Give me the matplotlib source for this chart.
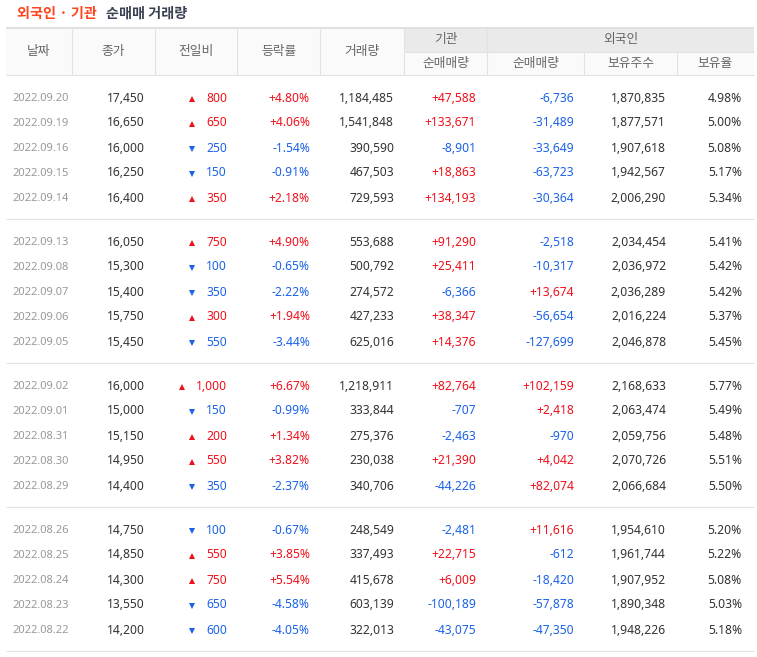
import matplotlib
matplotlib.use("Agg")
import matplotlib.pyplot as plt
from matplotlib.patches import Rectangle

plt.rcParams['font.family'] = ['Noto Sans', 'Noto Sans CJK KR', 'DejaVu Sans']

# ---- data ----
dates = ['2022.09.20', '2022.09.19', '2022.09.16', '2022.09.15', '2022.09.14',
         '2022.09.13', '2022.09.08', '2022.09.07', '2022.09.06', '2022.09.05',
         '2022.09.02', '2022.09.01', '2022.08.31', '2022.08.30', '2022.08.29',
         '2022.08.26', '2022.08.25', '2022.08.24', '2022.08.23', '2022.08.22']
close = [17450, 16650, 16000, 16250, 16400,
         16050, 15300, 15400, 15750, 15450,
         16000, 15000, 15150, 14950, 14400,
         14750, 14850, 14300, 13550, 14200]
change = [800, 650, -250, -150, 350,
          750, -100, -350, 300, -550,
          1000, -150, 200, 550, -350,
          -100, 550, 750, -650, -600]
rate = [4.80, 4.06, -1.54, -0.91, 2.18,
        4.90, -0.65, -2.22, 1.94, -3.44,
        6.67, -0.99, 1.34, 3.82, -2.37,
        -0.67, 3.85, 5.54, -4.58, -4.05]
volume = [1184485, 1541848, 390590, 467503, 729593,
          553688, 500792, 274572, 427233, 625016,
          1218911, 333844, 275376, 230038, 340706,
          248549, 337493, 415678, 603139, 322013]
inst_net = [47588, 133671, -8901, 18863, 134193,
            91290, 25411, -6366, 38347, 14376,
            82764, -707, -2463, 21390, -44226,
            -2481, 22715, 6009, -100189, -43075]
frgn_net = [-6736, -31489, -33649, -63723, -30364,
            -2518, -10317, 13674, -56654, -127699,
            102159, 2418, -970, 4042, 82074,
            11616, -612, -18420, -57878, -47350]
frgn_hold = [1870835, 1877571, 1907618, 1942567, 2006290,
             2034454, 2036972, 2036289, 2016224, 2046878,
             2168633, 2063474, 2059756, 2070726, 2066684,
             1954610, 1961744, 1907952, 1890348, 1948226]
frgn_ratio = [4.98, 5.00, 5.08, 5.17, 5.34,
              5.41, 5.42, 5.42, 5.37, 5.45,
              5.77, 5.49, 5.48, 5.51, 5.50,
              5.20, 5.22, 5.08, 5.03, 5.18]

headers = ['날짜', '종가', '전일비', '등락률', '거래량']
group_headers = ['기관', '외국인']
sub_headers = ['순매매량', '순매매량', '보유주수', '보유율']

RED = '#f0101a'
BLUE = '#1a62e8'
DARK = '#333333'
GRAY = '#999999'
LINE = '#e2e2e2'

def col(v):
    return RED if v > 0 else BLUE

W, H = 757, 657
fig = plt.figure(figsize=(W / 100, H / 100), dpi=100)
ax = fig.add_axes([0, 0, 1, 1])
ax.set_xlim(0, W)
ax.set_ylim(H, 0)
ax.axis('off')

# ---- title ----
ax.text(17, 14, '외국인 · 기관', color='#ff441c', fontsize=10.2, fontweight='bold',
        va='center', ha='left', family=['Noto Sans CJK KR'])
ax.text(106, 14, '순매매 거래량', color='#3a4252', fontsize=10.2, fontweight='bold',
        va='center', ha='left', family=['Noto Sans CJK KR'])

# ---- header ----
L, R = 6, 754
edges = [6, 72, 155, 237, 320, 404]
sub_edges = [404, 487, 584, 677, 754]
ax.add_patch(Rectangle((L, 29), 404 - L, 46, color='#fafafa', lw=0))
ax.add_patch(Rectangle((404, 29), R - 404, 23, color='#eaeaea', lw=0))
ax.add_patch(Rectangle((404, 52), R - 404, 23, color='#fafafa', lw=0))
ax.hlines(28, L, R, color='#e0e0e0', lw=1.5)
ax.hlines(75, L, R, color=LINE, lw=0.8)
ax.hlines(52, 404, R, color=LINE, lw=0.8)
ax.vlines(edges[1:] + [487], 29, 75, color=LINE, lw=0.8)
ax.vlines(sub_edges[2:4], 52, 75, color=LINE, lw=0.8)

hfont = dict(color='#666666', fontsize=9.2, ha='center', va='center', family=['Noto Sans CJK KR'])
for i, h in enumerate(headers):
    ax.text((edges[i] + edges[i + 1]) / 2, 52, h, **hfont)
ax.text((404 + 487) / 2, 40, group_headers[0], **hfont)
ax.text((487 + 754) / 2, 40, group_headers[1], **hfont)
for i, h in enumerate(sub_headers):
    ax.text((sub_edges[i] + sub_edges[i + 1]) / 2, 63.5, h, **hfont)

# ---- rows ----
FS = 8.7
change_texts = []
for k in range(len(dates)):
    g, r = divmod(k, 5)
    y = 98 + g * 144 + r * 25
    kw = dict(va='center', fontsize=FS)
    ax.text(12, y + 0.8, dates[k], color=GRAY, ha='left', va='center', fontsize=8.0)
    ax.text(145, y, f'{close[k]:,}', color=DARK, ha='right', **kw)
    t = ax.text(227, y, f'{abs(change[k]):,}', color=col(change[k]), ha='right', **kw)
    change_texts.append((t, y, change[k]))
    ax.text(310, y, f'{rate[k]:+.2f}%', color=col(rate[k]), ha='right', **kw)
    ax.text(394, y, f'{volume[k]:,}', color=DARK, ha='right', **kw)
    ax.text(476, y, f'{inst_net[k]:+,}', color=col(inst_net[k]), ha='right', **kw)
    ax.text(574, y, f'{frgn_net[k]:+,}', color=col(frgn_net[k]), ha='right', **kw)
    ax.text(666, y, f'{frgn_hold[k]:,}', color=DARK, ha='right', **kw)
    ax.text(742, y, f'{frgn_ratio[k]:.2f}%', color=DARK, ha='right', **kw)

for g in range(4):
    ax.hlines(218.5 + g * 144, L, R, color=LINE, lw=0.8)

# arrows left of the change numbers
fig.canvas.draw()
renderer = fig.canvas.get_renderer()
for t, y, v in change_texts:
    x0 = t.get_window_extent(renderer).x0
    ax.plot(x0 - 14, y + 0.5, marker='^' if v > 0 else 'v', color=col(v),
            markersize=4.6, markeredgewidth=0)

fig.savefig('out.png', dpi=100)
